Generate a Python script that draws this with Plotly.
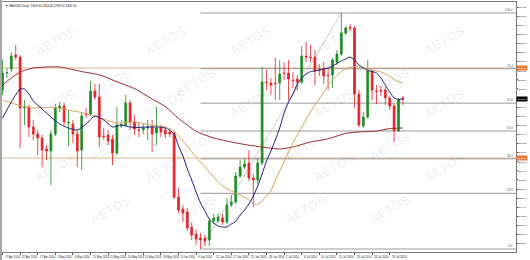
import plotly.graph_objects as go

# ---------------- data (XAUUSD daily) ----------------
opens = [1307, 1315.5, 1317.5, 1324.5, 1323.5, 1298, 1298.5, 1288.5, 1285, 1283,
         1277.5, 1276.5, 1285, 1298, 1299, 1290.5, 1290, 1285, 1277, 1295,
         1295, 1306.5, 1303.5, 1284, 1284.5, 1282.5, 1275.5, 1289, 1289.5, 1300.5,
         1291, 1287, 1287, 1288, 1288.5, 1285.5, 1288, 1287, 1286, 1285.5,
         1253.5, 1247.5, 1246, 1238.5, 1235, 1233, 1233, 1232, 1241.5, 1241.5,
         1243, 1241, 1249.5, 1251, 1264, 1268.5, 1270.5, 1263, 1262, 1270.5,
         1311, 1310.5, 1310.5, 1310.5, 1315.5, 1315.5, 1312, 1312.5, 1311, 1324,
         1323.5, 1323.5, 1317, 1317.5, 1314.5, 1314.5, 1321, 1325, 1335.5, 1338.25,
         1338, 1305, 1289, 1293.5, 1316.5, 1306.5, 1306.75, 1307, 1303, 1299,
         1286.5, 1303]
highs = [1322, 1318, 1326, 1329.5, 1324.5, 1302, 1299.5, 1292, 1287, 1284.5,
         1279.5, 1287, 1300, 1301, 1300.5, 1297, 1292, 1287, 1296, 1298,
         1311.5, 1310, 1310, 1288, 1287, 1284.5, 1298.5, 1292, 1304.5, 1302,
         1294.5, 1290.5, 1290, 1292, 1292, 1298.5, 1289.5, 1288.5, 1288, 1286.5,
         1258, 1249.5, 1248, 1241, 1237, 1235.5, 1234.5, 1243, 1245, 1245.5,
         1245, 1253, 1254.5, 1266, 1272, 1272.5, 1277, 1265, 1273, 1318.5,
         1317, 1313, 1323, 1322, 1321, 1322, 1316, 1314.5, 1329, 1331,
         1329.5, 1327, 1320, 1321, 1318, 1323, 1327, 1345.5, 1339, 1340,
         1339, 1307, 1296, 1322, 1317, 1309.5, 1309, 1308.5, 1304, 1300,
         1303, 1304]
lows = [1304.5, 1313, 1316, 1322, 1278, 1289.5, 1283.5, 1282, 1274.5, 1268.5,
        1272, 1259.5, 1284, 1296, 1289.5, 1279, 1280.5, 1268.5, 1267, 1293,
        1294, 1302, 1278.5, 1282, 1279.5, 1269.5, 1274.5, 1288, 1288.5, 1287,
        1284.5, 1283.5, 1285, 1282, 1276, 1279.5, 1283.5, 1283, 1283.5, 1252.5,
        1245.5, 1241, 1236.5, 1232, 1229.5, 1227.5, 1229, 1229, 1240, 1240.5,
        1239.5, 1240, 1248.5, 1250, 1263, 1267.5, 1261.5, 1248.5, 1260, 1269.5,
        1307, 1304.5, 1302, 1302, 1312, 1302, 1308, 1307, 1310, 1321,
        1321, 1309.5, 1314, 1310, 1307, 1308, 1319.5, 1324, 1334.5, 1336.5,
        1298, 1288.5, 1288, 1292.5, 1302, 1300, 1304, 1299.5, 1297, 1281,
        1286, 1299.5]
closes = [1315.5, 1315.75, 1324, 1323.5, 1298, 1298.25, 1288.5, 1285, 1283, 1277,
          1276.5, 1285, 1298, 1299, 1291, 1290.75, 1285, 1276.5, 1294, 1294.75,
          1306.5, 1303.5, 1283.5, 1283.75, 1281.5, 1275.5, 1289.5, 1289.5, 1300.5, 1291,
          1287.5, 1286.75, 1288, 1288.5, 1285, 1288, 1286, 1285, 1285, 1253.5,
          1247, 1245.5, 1238, 1234.5, 1232.5, 1232, 1231.5, 1241.5, 1243, 1243.5,
          1241, 1249.5, 1251, 1264, 1268.5, 1270, 1263, 1262, 1270.5, 1311,
          1310.75, 1309.5, 1310.25, 1315, 1315.25, 1312.5, 1311.75, 1311, 1324, 1323.5,
          1323.25, 1316.5, 1316.75, 1314, 1314.25, 1322, 1325, 1335.5, 1338, 1338,
          1305, 1289.5, 1293.5, 1316.5, 1307, 1306.25, 1306.5, 1303, 1299, 1286.5,
          1302, 1302.5]
bar_idx = list(range(len(opens)))

date_tick_idx = list(range(0, 92, 4))
date_labels = ["17 Apr 2014", "22 Apr 2014", "27 Apr 2014", "1 May 2014", "6 May 2014",
               "11 May 2014", "15 May 2014", "20 May 2014", "25 May 2014", "29 May 2014",
               "3 Jun 2014", "8 Jun 2014", "12 Jun 2014", "17 Jun 2014", "22 Jun 2014",
               "26 Jun 2014", "1 Jul 2014", "6 Jul 2014", "10 Jul 2014", "15 Jul 2014",
               "20 Jul 2014", "24 Jul 2014", "29 Jul 2014"]

# fast MA (navy)
ma_fast_idx = [0, 2, 4, 5, 6, 7, 9, 11, 13, 15, 17, 19, 21, 23, 25, 27, 29, 31, 33, 35,
               37, 38, 39, 40, 41, 42, 43, 44, 45, 46, 47, 48, 49, 50, 51, 52, 53, 54, 55, 56,
               57, 58, 59, 60, 61, 62, 63, 64, 65, 66, 67, 68, 69, 70, 71, 72, 73, 74, 75, 76,
               77, 78, 79, 80, 81, 82, 83, 84, 85, 86, 87, 88, 89, 90, 91]
ma_fast = [1293, 1301, 1307.5, 1307.5, 1305, 1301.5, 1297.5, 1293.5, 1290, 1288,
           1287, 1290, 1294, 1292, 1288.5, 1289.5, 1288.5, 1288.3, 1288.5, 1288.5,
           1288, 1286.8, 1285, 1279, 1274, 1267.5, 1262, 1256, 1250.5, 1246.5,
           1242.5, 1240.5, 1239, 1238.5, 1238.5, 1240, 1241.3, 1244.5, 1247, 1250,
           1254, 1259, 1265, 1271.5, 1276.5, 1282, 1288, 1295.5, 1301, 1305,
           1310, 1313, 1315, 1316.2, 1316.5, 1317, 1317.5, 1318, 1319, 1320.3,
           1321.5, 1322.5, 1323.5, 1322, 1319.5, 1318, 1316.8, 1316.2, 1315.5, 1313,
           1309.5, 1306, 1303, 1302.3, 1302.5]

# medium MA (tan)
ma_mid_idx = [0, 2, 4, 7, 10, 12, 15, 18, 22, 26, 30, 34, 37, 39, 40, 41, 43, 45, 47, 50,
              52, 54, 56, 57, 58, 59, 60, 61, 62, 63, 64, 65, 66, 67, 68, 69, 70, 71, 72, 73,
              74, 75, 76, 77, 78, 79, 81, 82, 84, 86, 87, 88, 90, 91]
ma_mid = [1302, 1300.5, 1299.3, 1298, 1298.3, 1298.3, 1297, 1295.7, 1293.2, 1290.5,
          1291, 1289.3, 1288.7, 1286.3, 1284, 1281.5, 1276.2, 1271, 1266, 1259,
          1256.5, 1254.5, 1252, 1250, 1249.8, 1251.5, 1254, 1256.5, 1262, 1266.5,
          1271, 1276, 1280.5, 1284.5, 1288.5, 1292.3, 1296, 1299.5, 1302.5, 1305.8,
          1309.3, 1312, 1314.3, 1316.3, 1317.5, 1318.5, 1318.5, 1318.2, 1317, 1316,
          1315, 1313.8, 1311.2, 1310.5]

# slow MA (maroon)
ma_slow_idx = [0, 2, 4, 7, 10, 13, 16, 18, 22, 26, 30, 34, 37, 40, 44, 48, 52, 56, 59, 63,
               66, 70, 74, 78, 81, 85, 88, 91]
ma_slow = [1309.5, 1313, 1316, 1318, 1318.5, 1318.5, 1317.2, 1316.2, 1314.6, 1311.1,
           1307.7, 1302.5, 1298.7, 1292.8, 1286.4, 1283, 1281, 1279.4, 1278.5, 1277.5,
           1278.5, 1281, 1282.6, 1285.3, 1286, 1286.5, 1287.7, 1288]

# Fibonacci retracement (low -> high) and horizontal lines
fib_low_idx, fib_low = 45, 1227.5
fib_high_idx, fib_high = 77, 1345.5
fib_ratios = [0.0, 0.236, 0.382, 0.5, 0.618, 0.764, 1.0]
fib_texts = ["0.0", "23.6", "38.2", "50.0", "61.8", "76.4", "100.0"]
hlines = [1318.0, 1273.0]

symbol_title = "\u25bc XAUUSD,Daily  1303.00 1304.00 1299.50 1302.50"

# ---------------- styling ----------------
GREEN = "#1f8a25"
RED = "#e3232a"
NAVY = "#1c1f7a"
TAN = "#d6a35c"
MAROON = "#962a2a"
ORANGE_LINE = "#dfb48e"
FIB_GRAY = "#9a9a9a"
X_MIN, X_MAX = -0.57, 116.7
Y_MIN, Y_MAX = 1226.0, 1351.0
PLOT_W = 516.0

fig = go.Figure()

fig.add_trace(go.Candlestick(
    x=bar_idx, open=opens, high=highs, low=lows, close=closes,
    increasing=dict(line=dict(color=GREEN, width=0.8), fillcolor=GREEN),
    decreasing=dict(line=dict(color=RED, width=0.8), fillcolor=RED),
    whiskerwidth=0, showlegend=False, hoverinfo="skip"))

for xs, ys, col in [(ma_slow_idx, ma_slow, MAROON), (ma_mid_idx, ma_mid, TAN),
                    (ma_fast_idx, ma_fast, NAVY)]:
    fig.add_trace(go.Scatter(x=xs, y=ys, mode="lines",
                             line=dict(color=col, width=1, shape="spline", smoothing=0.6),
                             showlegend=False, hoverinfo="skip"))

shapes = []
for r in fib_ratios:
    lvl = fib_low + r * (fib_high - fib_low)
    shapes.append(dict(type="line", xref="x", yref="y", x0=fib_low_idx, x1=X_MAX,
                       y0=lvl, y1=lvl, line=dict(color=FIB_GRAY, width=1), layer="below"))
shapes.append(dict(type="line", xref="x", yref="y", x0=fib_low_idx, x1=fib_high_idx,
                   y0=fib_low, y1=fib_high, line=dict(color="#b8b8b8", width=0.7),
                   layer="below"))
for h in hlines:
    shapes.append(dict(type="line", xref="paper", yref="y", x0=0, x1=1, y0=h, y1=h,
                       line=dict(color=ORANGE_LINE, width=1), layer="below"))
shapes.append(dict(type="rect", xref="paper", yref="paper", x0=0, x1=2 / PLOT_W,
                   y0=-0.05, y1=1.02, fillcolor="#a6a6a6", line=dict(width=0)))

annotations = []
# faint tiled watermark, kept fully inside the plot area
for k in range(6):
    yp = 20 + 42 * k
    cols = [30 + 110 * j for j in range(5)] if k % 2 == 0 else [85 + 110 * j for j in range(4)]
    for xp in cols:
        annotations.append(dict(x=xp / PLOT_W, y=1 - (yp - 2) / 250.0, xref="paper",
                                yref="paper", text="<b>AETOS</b>", showarrow=False,
                                textangle=-30,
                                font=dict(size=13, color="rgba(0,0,0,0.06)",
                                          family="Liberation Sans")))
for r, t in zip(fib_ratios, fib_texts):
    lvl = fib_low + r * (fib_high - fib_low)
    annotations.append(dict(x=1, y=lvl, xref="paper", yref="y", text=t, showarrow=False,
                            xanchor="right", yanchor="bottom", xshift=-1, yshift=-1,
                            font=dict(size=3, color="#555555", family="Liberation Sans")))
for h in hlines:
    annotations.append(dict(x=1, y=h, xref="paper", yref="y", text=f"{h:.2f}",
                            showarrow=False, xanchor="left", yanchor="middle",
                            bgcolor="#ec7a3a", borderpad=0.5,
                            font=dict(size=2.4, color="white", family="Liberation Sans")))
annotations.append(dict(x=1, y=closes[-1], xref="paper", yref="y",
                        text=f"{closes[-1]:.2f}", showarrow=False, xanchor="left",
                        yanchor="middle", bgcolor="#000000", borderpad=0.5,
                        font=dict(size=2.4, color="white", family="Liberation Sans")))
for i, t in zip(date_tick_idx, date_labels):
    annotations.append(dict(x=i, y=0, xref="x", yref="paper", text=t, showarrow=False,
                            xanchor="left", yanchor="top", yshift=-1, xshift=0,
                            font=dict(size=2.8, color="#222222", family="Liberation Sans")))
annotations.append(dict(x=0.006, y=1, xref="paper", yref="paper", text=symbol_title,
                        showarrow=False, xanchor="left", yanchor="top", yshift=0,
                        font=dict(size=3, color="#111111", family="Liberation Sans")))

fig.update_layout(
    width=530, height=260,
    margin=dict(l=0, r=14, t=2, b=8),
    paper_bgcolor="white", plot_bgcolor="white",
    boxgap=0.4,
    shapes=shapes, annotations=annotations,
    xaxis=dict(range=[X_MIN, X_MAX], showgrid=False, zeroline=False,
               showline=True, mirror=True, linecolor="#7a7a7a", linewidth=1,
               ticks="outside", ticklen=2, tickcolor="#555555", tickwidth=0.6,
               tickvals=date_tick_idx, showticklabels=False,
               rangeslider=dict(visible=False), fixedrange=True),
    yaxis=dict(range=[Y_MIN, Y_MAX], side="right", showgrid=False, zeroline=False,
               showline=True, mirror=True, linecolor="#7a7a7a", linewidth=1,
               ticks="outside", ticklen=1, tickcolor="#555555", tickwidth=0.6,
               tick0=1348.5, dtick=4.55, tickformat=".2f", ticklabelstandoff=-1,
               tickfont=dict(size=2.4, color="#222222", family="Liberation Sans"),
               automargin=False, fixedrange=True),
)

fig.write_html("out.html")
